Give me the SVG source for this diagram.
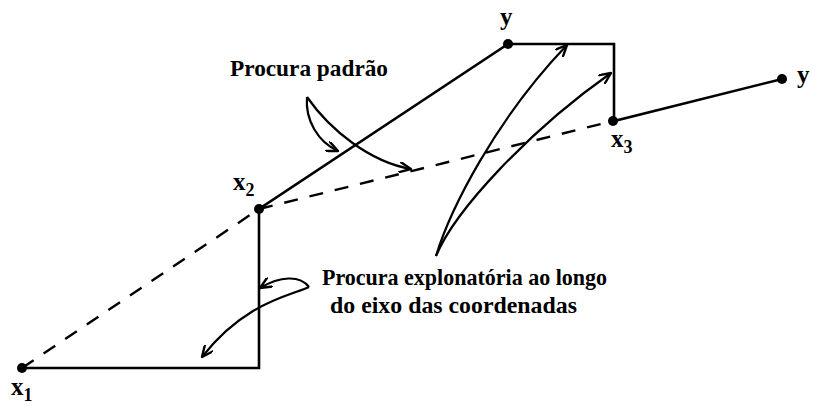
<svg xmlns="http://www.w3.org/2000/svg" width="813" height="406" viewBox="0 0 813 406">
<defs>
<style>
.ln{stroke:#000;stroke-width:2.6;fill:none;stroke-linecap:square}
.ds{stroke:#000;stroke-width:2.4;fill:none;stroke-dasharray:14 12}
.ar{stroke:#000;stroke-width:2.2;fill:none}
.lab{font-family:"Liberation Serif",serif;font-weight:bold;font-size:23px;fill:#000}
.pt{font-family:"Liberation Serif",serif;font-weight:bold;font-size:25px;fill:#000}
.sub{font-family:"Liberation Serif",serif;font-size:18px;fill:#000}
</style>
<marker id="ah" viewBox="0 0 12 10" refX="11" refY="5" markerWidth="13" markerHeight="11" markerUnits="userSpaceOnUse" orient="auto">
<path d="M0,0 L11,5 L0,10" fill="none" stroke="#000" stroke-width="2.2"/>
</marker>
</defs>
<rect width="813" height="406" fill="#fff"/>
<g id="connectors">
<path class="ds" d="M22,368 L259,209"/>
<path class="ds" d="M259,209 L613,121"/>
<path class="ln" d="M22,368 L259,368 L259,209 L508,44 L614,44 L614,121 L782,79"/>
<path class="ar" marker-end="url(#ah)" d="M307,97 C305,120 318,142 338,151"/>
<path class="ar" marker-end="url(#ah)" d="M307,97 C330,130 370,162 411,169"/>
<path class="ar" marker-end="url(#ah)" d="M436,256 C450,210 495,120 567,45"/>
<path class="ar" marker-end="url(#ah)" d="M436,256 C455,210 530,130 611,73"/>
<path class="ar" marker-end="url(#ah)" d="M309,287 C300,275 280,276 260,288"/>
<path class="ar" marker-end="url(#ah)" d="M309,287 C290,296 245,302 202,357"/>
</g>
<g id="x1"><circle cx="22" cy="368" r="5"/><text x="11" y="395" class="pt">x<tspan class="sub" dy="6">1</tspan></text></g>
<g id="x2"><circle cx="259" cy="209" r="5"/><text x="233" y="190" class="pt">x<tspan class="sub" dy="6">2</tspan></text></g>
<g id="y1"><circle cx="508" cy="44" r="5"/><text x="500" y="25" class="pt">y</text></g>
<g id="x3"><circle cx="613" cy="121" r="5"/><text x="611" y="147" class="pt">x<tspan class="sub" dy="6">3</tspan></text></g>
<g id="y2"><circle cx="782" cy="79" r="5"/><text x="797" y="83" class="pt">y</text></g>
<g id="label-padrao"><text x="230" y="76" class="lab" textLength="158" lengthAdjust="spacingAndGlyphs">Procura padrão</text></g>
<g id="label-explo"><text x="322" y="285" class="lab" textLength="285" lengthAdjust="spacingAndGlyphs">Procura explonatória ao longo</text><text x="330" y="313" class="lab" textLength="247" lengthAdjust="spacingAndGlyphs">do eixo das coordenadas</text></g>
</svg>
